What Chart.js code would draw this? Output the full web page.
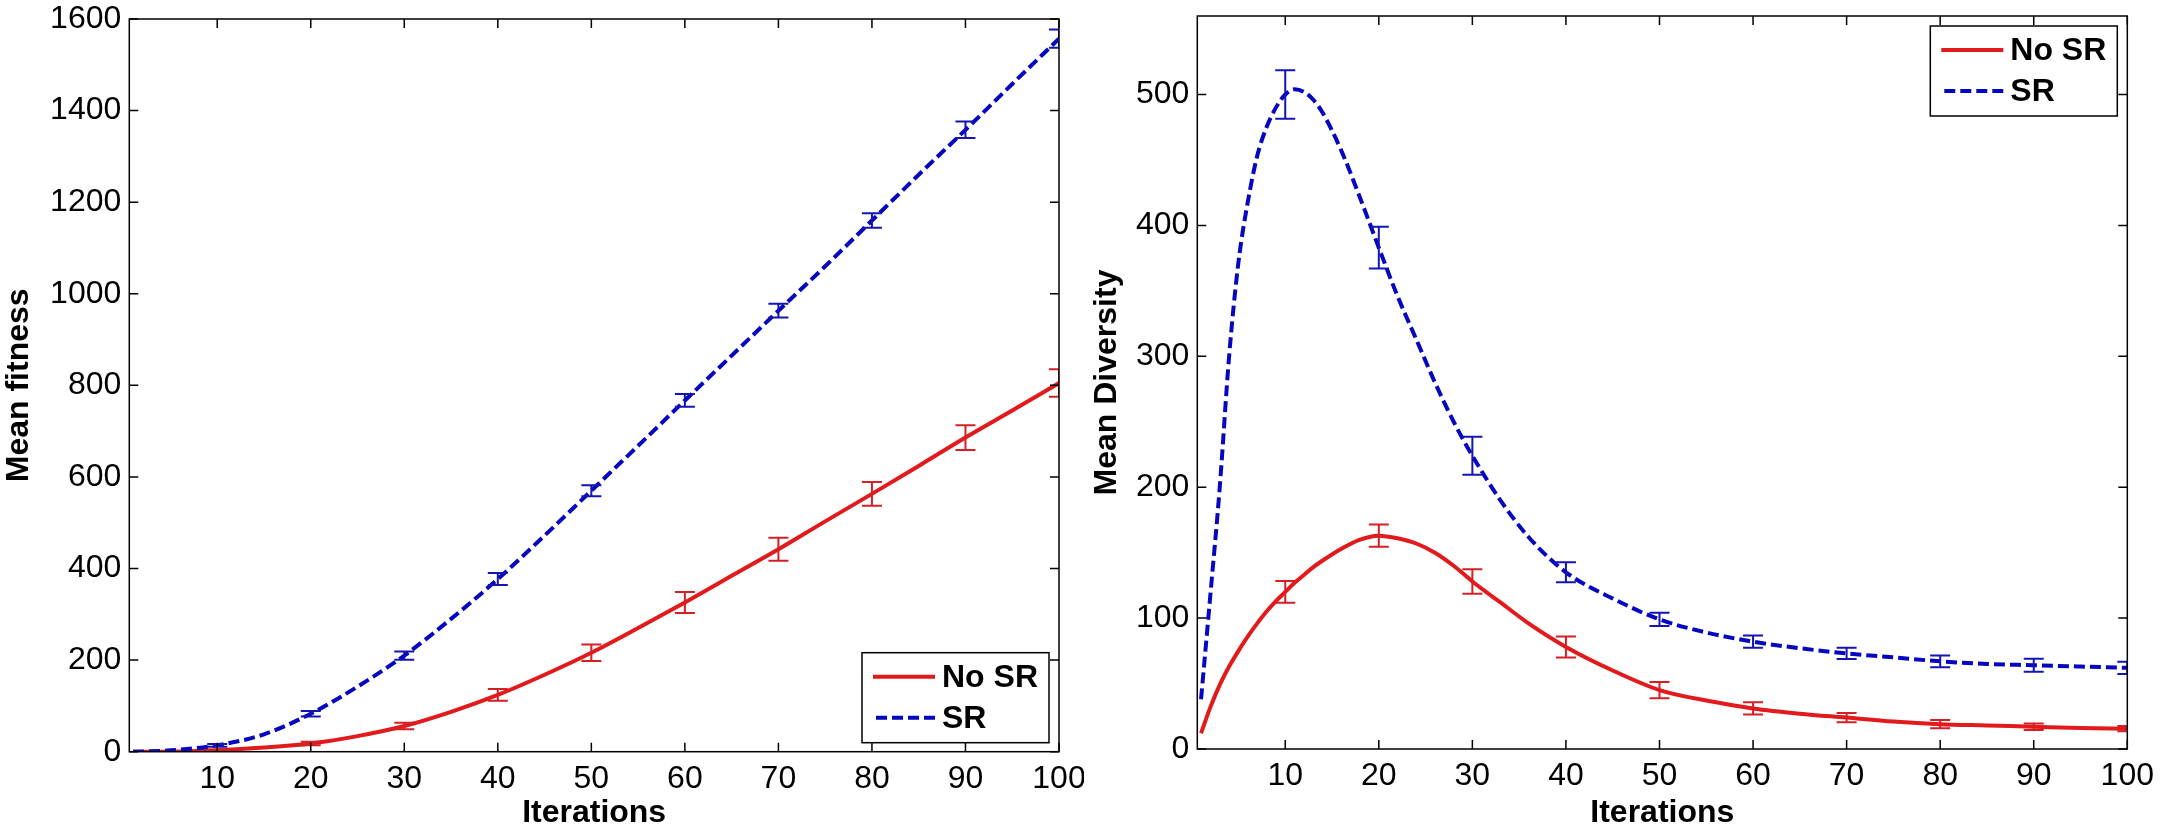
<!DOCTYPE html>
<html>
<head>
<meta charset="utf-8">
<title>Mean fitness / Mean Diversity</title>
<script src="https://cdn.jsdelivr.net/npm/chart.js@4.4.0/dist/chart.umd.min.js"></script>
<style>
  body { margin: 0; background: #fff; }
  #wrap { position: relative; width: 2168px; height: 832px; overflow: hidden; background: #fff; }
  canvas { position: absolute; top: 0; }
  #fitnessChart { left: 0; }
  #diversityChart { left: 1088px; }
</style>
</head>
<body>
<div id="wrap">
  <canvas id="fitnessChart" width="1084" height="832"></canvas>
  <canvas id="diversityChart" width="1080" height="832"></canvas>
</div>
<script>
// ---- data ----
const seriesNames = ['No SR', 'SR'];
const xTicks = [10, 20, 30, 40, 50, 60, 70, 80, 90, 100];
const errIters = [10, 20, 30, 40, 50, 60, 70, 80, 90, 100];

// left: Mean fitness
const fitIters = [1, 5, 10, 15, 20, 25, 30, 35, 40, 45, 50, 55, 60, 65, 70, 75, 80, 85, 90, 95, 100];
const fitNoSR = [0, 0, 3, 9, 18, 34, 56, 87, 124, 168, 216, 270, 326, 384, 442, 503, 563, 624, 686, 745, 805];
const fitSR = [0, 3, 14, 38, 83, 142, 210, 290, 377, 472, 570, 668, 767, 865, 963, 1060, 1160, 1260, 1358, 1458, 1557];
const fitErrNoSR = [1, 4, 7, 13, 18, 23, 25, 26, 27, 30];
const fitErrSR = [3, 6, 9, 13, 12, 14, 15, 16, 18, 20];
const fitTicks = [0, 200, 400, 600, 800, 1000, 1200, 1400, 1600];

// right: Mean Diversity
const divIters = [1, 2, 3, 4, 5, 6, 7, 8, 9, 10, 11, 12, 13, 14, 16, 18, 20, 22, 24, 26, 28, 30, 33, 36, 40, 45, 50, 55, 60, 65, 70, 75, 80, 85, 90, 95, 100];
const divNoSR = [12, 32, 49, 63, 75, 86, 96, 105, 113, 120, 127, 133, 139, 144, 153, 160, 163, 161, 157, 150, 140, 128, 112, 96, 78, 60, 45, 37, 31, 27, 24, 21, 19, 18, 17, 16, 15.5];
const divSR = [38, 118, 200, 300, 372, 418, 453, 475, 490, 500, 504, 502, 496, 486, 457, 421, 383, 346, 313, 280, 250, 224, 190, 162, 135, 115, 99, 89, 82, 77, 73, 70, 67, 65, 64, 63, 62];
const divErrNoSR = [8.3, 8.5, 9.3, 8, 6.2, 4.7, 3.5, 3.2, 2.5, 2];
const divErrSR = [18.5, 16, 14.5, 7.7, 5, 4.7, 4.3, 4.5, 5, 4.7];
const divTicks = [0, 100, 200, 300, 400, 500];

const FONT = "'Liberation Sans', Arial, Helvetica, sans-serif";
const RED = '#e31a1c';
const BLUE = '#0606c0';

function points(xs, ys) {
  return xs.map((x, i) => ({ x: x, y: ys[i] }));
}

// error bars, box with inward ticks, legend
const matlabLook = {
  id: 'matlabLook',
  afterDatasetsDraw(chart) {
    const { ctx, chartArea: a, scales: { x, y } } = chart;
    ctx.save();
    ctx.beginPath();
    ctx.rect(a.left, a.top, a.right - a.left, a.bottom - a.top);
    ctx.clip();
    ctx.lineWidth = 2;
    chart.data.datasets.forEach(ds => {
      ctx.strokeStyle = ds.errColor;
      errIters.forEach((it, i) => {
        const pt = ds.data.find(p => p.x === it);
        const px = x.getPixelForValue(it);
        const y1 = y.getPixelForValue(pt.y - ds.err[i]);
        const y2 = y.getPixelForValue(pt.y + ds.err[i]);
        ctx.beginPath();
        ctx.moveTo(px, y1); ctx.lineTo(px, y2);
        ctx.moveTo(px - 10, y1); ctx.lineTo(px + 10, y1);
        ctx.moveTo(px - 10, y2); ctx.lineTo(px + 10, y2);
        ctx.stroke();
      });
    });
    ctx.restore();
  },
  afterDraw(chart, args, opts) {
    const { ctx, chartArea: a, scales: { x, y } } = chart;
    ctx.save();
    ctx.strokeStyle = '#000';
    ctx.lineWidth = 1.5;
    ctx.strokeRect(a.left, a.top, a.right - a.left, a.bottom - a.top);
    ctx.beginPath();
    x.ticks.forEach(t => {
      const px = x.getPixelForValue(t.value);
      ctx.moveTo(px, a.bottom); ctx.lineTo(px, a.bottom - 9);
      ctx.moveTo(px, a.top); ctx.lineTo(px, a.top + 9);
    });
    y.ticks.forEach(t => {
      const py = y.getPixelForValue(t.value);
      ctx.moveTo(a.left, py); ctx.lineTo(a.left + 9, py);
      ctx.moveTo(a.right, py); ctx.lineTo(a.right - 9, py);
    });
    ctx.stroke();

    // legend
    const bw = 187, bh = 90;
    const bx = a.right - opts.right - bw;
    const by = opts.top != null ? a.top + opts.top : a.bottom - opts.bottom - bh;
    ctx.fillStyle = '#fff';
    ctx.fillRect(bx, by, bw, bh);
    ctx.strokeRect(bx, by, bw, bh);
    ctx.font = 'bold 32px ' + FONT;
    ctx.textBaseline = 'middle';
    ctx.textAlign = 'left';
    chart.data.datasets.forEach((ds, i) => {
      const ly = by + 24 + i * 41;
      ctx.strokeStyle = ds.borderColor;
      ctx.lineWidth = 4;
      ctx.setLineDash(ds.borderDash || []);
      ctx.beginPath();
      ctx.moveTo(bx + (ds.borderDash ? 14 : 11), ly);
      ctx.lineTo(bx + 73, ly);
      ctx.stroke();
      ctx.setLineDash([]);
      ctx.fillStyle = '#000';
      ctx.fillText(ds.label, bx + 80, ly + 1);
    });
    ctx.restore();
  }
};

function makeChart(id, iters, noSR, sr, errNoSR, errSR, yTicks, yMax, yTitle, box, legendPos) {
  return new Chart(document.getElementById(id), {
    type: 'line',
    data: {
      datasets: [
        {
          label: seriesNames[0],
          data: points(iters, noSR),
          err: errNoSR,
          errColor: '#d42024',
          borderColor: RED,
          borderWidth: 4,
          order: 1
        },
        {
          label: seriesNames[1],
          data: points(iters, sr),
          err: errSR,
          errColor: '#1414b4',
          borderColor: BLUE,
          borderWidth: 4,
          borderDash: [11, 5],
          order: 0
        }
      ]
    },
    options: {
      responsive: false,
      animation: false,
      devicePixelRatio: 1,
      layout: { padding: { left: 0, top: box.top, right: box.right, bottom: 0 } },
      elements: {
        point: { radius: 0 },
        line: { cubicInterpolationMode: 'monotone', fill: false, borderCapStyle: 'butt' }
      },
      scales: {
        x: {
          type: 'linear',
          min: 0.6,
          max: 100,
          afterBuildTicks: s => { s.ticks = xTicks.map(v => ({ value: v })); },
          afterFit: s => { s.height = box.xh; s.paddingLeft = 0; s.paddingRight = 0; },
          grid: { display: false, drawTicks: false },
          border: { display: false },
          ticks: { color: '#000', font: { family: FONT, size: 32 }, padding: 8, maxRotation: 0, autoSkip: false, callback: v => String(v) },
          title: { display: true, text: 'Iterations', color: '#000', font: { family: FONT, size: 32, weight: 'bold' }, padding: { top: 0, bottom: 0 } }
        },
        y: {
          type: 'linear',
          min: 0,
          max: yMax,
          afterBuildTicks: s => { s.ticks = yTicks.map(v => ({ value: v })); },
          afterFit: s => { s.width = box.yw; s.paddingTop = 0; s.paddingBottom = 0; },
          grid: { display: false, drawTicks: false },
          border: { display: false },
          ticks: { color: '#000', font: { family: FONT, size: 32 }, padding: 8, autoSkip: false, callback: v => String(v) },
          title: { display: true, text: yTitle, color: '#000', font: { family: FONT, size: 32, weight: 'bold' }, padding: { top: 0, bottom: 0 } }
        }
      },
      plugins: {
        legend: { display: false },
        tooltip: { enabled: false },
        matlabLook: legendPos
      }
    },
    plugins: [matlabLook]
  });
}

makeChart('fitnessChart', fitIters, fitNoSR, fitSR, fitErrNoSR, fitErrSR, fitTicks, 1600, 'Mean fitness',
  { top: 19, right: 25, yw: 129.3, xh: 80.3 }, { right: 10, bottom: 9 });
makeChart('diversityChart', divIters, divNoSR, divSR, divErrNoSR, divErrSR, divTicks, 560, 'Mean Diversity',
  { top: 16, right: 40.7, yw: 109.3, xh: 83 }, { right: 10, top: 10 });
</script>
</body>
</html>
